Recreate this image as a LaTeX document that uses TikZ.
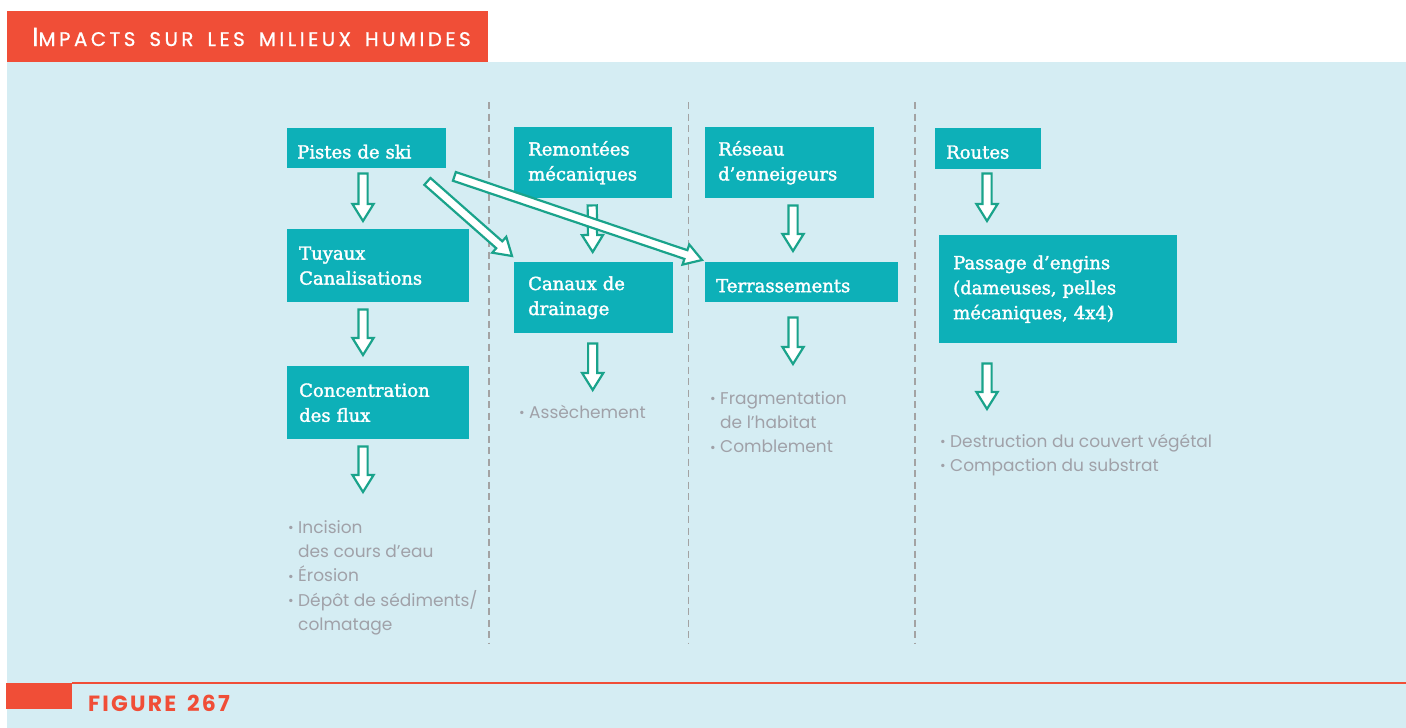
\documentclass[tikz,border=0pt]{standalone}
\usepackage{fontspec}
\setmainfont{DejaVu Serif}
\newfontfamily\boxfont[FakeBold=1.8]{DejaVu Serif}
\newfontfamily\popfont{Poppins}
\newfontfamily\poptitle[LetterSpace=18,WordSpace=1.6,FakeBold=1]{Poppins}
\newfontfamily\popfig[LetterSpace=10,WordSpace=1.6]{Poppins}
\usetikzlibrary{calc}
\definecolor{panel}{HTML}{D5EDF3}
\definecolor{boxteal}{HTML}{0DB0B8}
\definecolor{arrgreen}{HTML}{1AA38B}
\definecolor{redt}{HTML}{F04E37}
\definecolor{grayt}{HTML}{A0A1A8}
\definecolor{dashg}{HTML}{A3A3A3}
\newcommand\blockarrow[2]{%
  \path #1 coordinate (ba1);
  \path #2 coordinate (ba2);
  \coordinate (bh) at ($(ba2)!17pt!(ba1)$);
  \draw[blockarr] ($(ba1)!4.6pt!90:(ba2)$) -- ($(bh)!4.6pt!90:(ba2)$) -- ($(bh)!10.6pt!90:(ba2)$) -- (ba2) -- ($(bh)!10.6pt!-90:(ba2)$) -- ($(bh)!4.6pt!-90:(ba2)$) -- ($(ba1)!4.6pt!-90:(ba2)$) -- cycle;}
\newcommand\bul{\makebox[10pt][l]{\raisebox{0.1ex}{\scalebox{0.8}{•}}}}
\newcommand\ind{\hspace*{10pt}}
\newcommand\low[1]{\raisebox{-3.5pt}[\height][\depth]{#1}}
\begin{document}
\begin{tikzpicture}[x=1pt,y=-1pt,
  blockarr/.style={draw=arrgreen, fill=white, line width=2.2pt, line join=miter},
  box/.style={fill=boxteal, text=white, inner xsep=12pt, inner ysep=0pt, anchor=north west, align=left, font=\boxfont\fontsize{18}{25}\selectfont},
  list/.style={text=grayt, inner sep=0pt, anchor=north west, align=left, font=\popfont\fontsize{17}{24.4}\selectfont},
  divider/.style={dashg, line width=1.3pt, dash pattern=on 7pt off 4.5pt}]
\useasboundingbox (0,0) rectangle (1406,728);
\fill[white] (0,0) rectangle (1406,728);
\fill[panel] (7,62) rectangle (1406,728);
% title
\node[fill=redt, minimum width=481pt, minimum height=51pt, anchor=north west, inner sep=0pt] (titlebar) at (7,11) {};
\node[anchor=base west, text=white, inner sep=0pt] (title) at (32,46) {\poptitle{\fontsize{26}{26}\selectfont I}{\fontsize{19.7}{20}\selectfont MPACTS SUR LES MILIEUX HUMIDES}};
% footer
\draw[redt, line width=1.5pt] (72,683) -- (1406,683);
\fill[redt] (6,683) rectangle (72,709);
\node[anchor=base west, text=redt, inner sep=0pt] (fig) at (88,711) {\popfig\bfseries\fontsize{22}{24}\selectfont FIGURE 267};
% dividers
\foreach \x in {489,688.5,915} \draw[divider] (\x,102) -- (\x,643);
% columns
\coordinate (colA) at (363,0);
\coordinate (colC) at (793,0);
\coordinate (colD) at (987,0);
% boxes
\node[box, inner xsep=10pt, text width=139pt, minimum height=40pt] (pistes) at (287,128) {\low{Pistes de ski}};
\node[box, text width=158pt, minimum height=73pt] (tuyaux) at (287,229) {Tuyaux\\Canalisations};
\node[box, text width=158pt, minimum height=73pt] (conc) at (287,366) {Concentration\\des flux};
\node[box, inner xsep=14pt, text width=130pt, minimum height=71pt] (remont) at (514,127) {Remontées\\mécaniques};
\node[box, inner xsep=14pt, text width=131pt, minimum height=71pt] (canaux) at (514,262) {Canaux de\\drainage};
\node[box, inner xsep=13pt, text width=143pt, minimum height=71pt] (reseau) at (705,127) {Réseau\\d’enneigeurs};
\node[box, inner xsep=11pt, text width=171pt, minimum height=40pt] (terr) at (705,262) {\low{Terrassements}};
\node[box, inner xsep=11pt, text width=84pt, minimum height=41pt] (routes) at (935,128) {\low{Routes}};
\node[box, inner xsep=14pt, text width=210pt, minimum height=108pt] (passage) at (939,235) {Passage d’engins\\(dameuses, pelles\\mécaniques, 4x4)};
% lists
\node[list] (l1) at (288,520) {\bul Incision\\\ind des cours d’eau\\\bul Érosion\\\bul Dépôt de sédiments/\\\ind colmatage};
\node[list] (l2) at (519,405) {\bul Assèchement};
\node[list] (l3) at (710,391) {\bul Fragmentation\\\ind de l’habitat\\\bul Comblement};
\node[list] (l4) at (940,434) {\bul Destruction du couvert végétal\\\bul Compaction du substrat};
% arrows
\blockarrow{($(pistes.south -| colA)+(0,5)$)}{($(tuyaux.north -| colA)+(0,-8)$)}
\blockarrow{($(tuyaux.south -| colA)+(0,7)$)}{($(conc.north -| colA)+(0,-11)$)}
\blockarrow{($(conc.south -| colA)+(0,7)$)}{($(l1.north -| colA)+(0,-28)$)}
\blockarrow{($(remont.south)+(-1,7)$)}{($(canaux.north)+(-1,-10)$)}
\blockarrow{($(canaux.south)+(-1,10)$)}{($(l2.north -| canaux.south)+(-1,-15)$)}
\blockarrow{($(reseau.south -| colC)+(0,7)$)}{($(terr.north -| colC)+(0,-11)$)}
\blockarrow{($(terr.south -| colC)+(0,15)$)}{($(l3.north -| colC)+(0,-27)$)}
\blockarrow{($(routes.south -| colD)+(0,4)$)}{($(passage.north -| colD)+(0,-14)$)}
\blockarrow{($(passage.south -| colD)+(0,20)$)}{($(l4.north -| colD)+(0,-25)$)}
\blockarrow{($(pistes.south east)+(-19,13)$)}{($(canaux.north west)+(-2,-6)$)}
\blockarrow{($(pistes.south east)+(8,8)$)}{($(terr.north west)+(-3,-2)$)}
\end{tikzpicture}
\end{document}
